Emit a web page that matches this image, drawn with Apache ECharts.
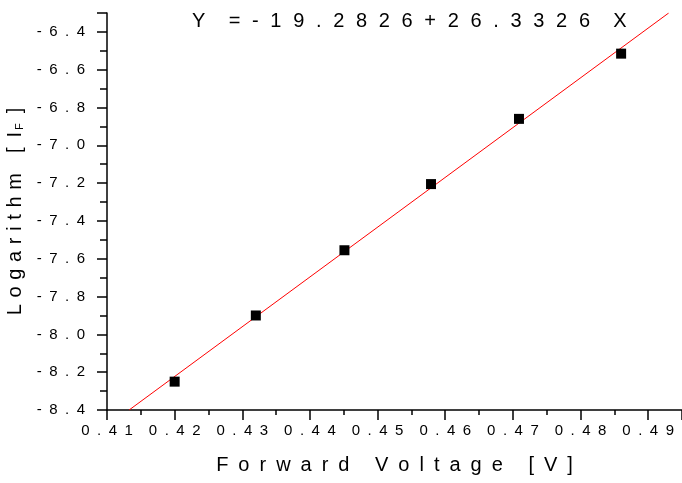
<!DOCTYPE html>
<html>
<head>
<meta charset="utf-8">
<script src="https://cdn.jsdelivr.net/npm/echarts@6/dist/echarts.min.js"></script>
<style>
  html, body { margin: 0; padding: 0; background: #fff; }
  #chart { width: 682px; height: 483px; }
</style>
</head>
<body>
<div id="chart"></div>
<script>
// measured points: forward voltage vs log of forward current
const voltage = [0.420, 0.432, 0.4451, 0.4579, 0.4709, 0.4860];
const logIF = [-8.25, -7.90, -7.555, -7.205, -6.86, -6.515];
// linear fit, Y = A + B X, drawn between the axis limits
const fitA = -19.2826;
const fitB = 26.3326;
const fitX = [0.41327, 0.49303];
const fitY = [-8.4, -6.3];

const sp = (s, gap) => s.split('').join(gap);
const en = '\u2002';
const gapT = '\u2002\u200A';

const titleText = 'Y' + gapT + gapT + '=' + gapT + sp(fitA.toFixed(4), gapT) + gapT + '+' + gapT +
  sp(fitB.toFixed(4), gapT) + gapT + gapT + 'X';

const chart = echarts.init(document.getElementById('chart'));
chart.setOption({
  animation: false,
  backgroundColor: '#fff',
  textStyle: { fontFamily: 'Liberation Sans, Arial, sans-serif', color: '#000' },
  title: {
    text: titleText,
    left: 187,
    top: 6,
    textStyle: { fontSize: 20, fontWeight: 'normal', color: '#000' }
  },
  grid: { left: 107, right: 0, top: 13, bottom: 73, containLabel: false, outerBoundsMode: 'none' },
  xAxis: {
    type: 'value',
    min: 0.41,
    max: 0.495,
    interval: 0.01,
    name: sp('Forward Voltage [V]', en),
    nameLocation: 'middle',
    nameGap: 45,
    nameTextStyle: { fontSize: 20, color: '#000' },
    axisLine: { onZero: false, lineStyle: { color: '#000', width: 1.5 } },
    axisTick: { length: 10, lineStyle: { color: '#000', width: 1.5 } },
    minorTick: { show: true, splitNumber: 2, length: 5, lineStyle: { color: '#000', width: 1.5 } },
    splitLine: { show: false },
    axisLabel: {
      showMaxLabel: false,
      margin: 13,
      fontSize: 15,
      color: '#000',
      formatter: v => sp(v.toFixed(2), en)
    }
  },
  yAxis: {
    type: 'value',
    min: -8.4,
    max: -6.3,
    interval: 0.2,
    name: '{t|' + sp('Logarithm', '\u2004') + en + en + '[' + en + 'I}{s|F}{t|' + en + ']}',
    nameLocation: 'middle',
    nameGap: 71,
    nameRotate: 90,
    nameTextStyle: {
      color: '#000',
      rich: {
        t: { fontSize: 20, color: '#000' },
        s: { fontSize: 11, color: '#000', verticalAlign: 'bottom', padding: [8, 0, 0, 2] }
      }
    },
    axisLine: { onZero: false, lineStyle: { color: '#000', width: 1.5 } },
    axisTick: { length: 10, lineStyle: { color: '#000', width: 1.5 } },
    minorTick: { show: true, splitNumber: 2, length: 7, lineStyle: { color: '#000', width: 1.5 } },
    splitLine: { show: false },
    axisLabel: {
      showMaxLabel: false,
      margin: 22,
      fontSize: 15,
      color: '#000',
      formatter: v => sp(v.toFixed(1), en)
    }
  },
  series: [
    {
      type: 'line',
      data: fitX.map((x, i) => [x, fitY[i]]),
      showSymbol: false,
      lineStyle: { color: '#ff0000', width: 1 },
      z: 1
    },
    {
      type: 'scatter',
      data: voltage.map((x, i) => [x, logIF[i]]),
      symbol: 'rect',
      symbolSize: 10,
      itemStyle: { color: '#000', opacity: 1 },
      z: 2
    }
  ]
});
</script>
</body>
</html>
